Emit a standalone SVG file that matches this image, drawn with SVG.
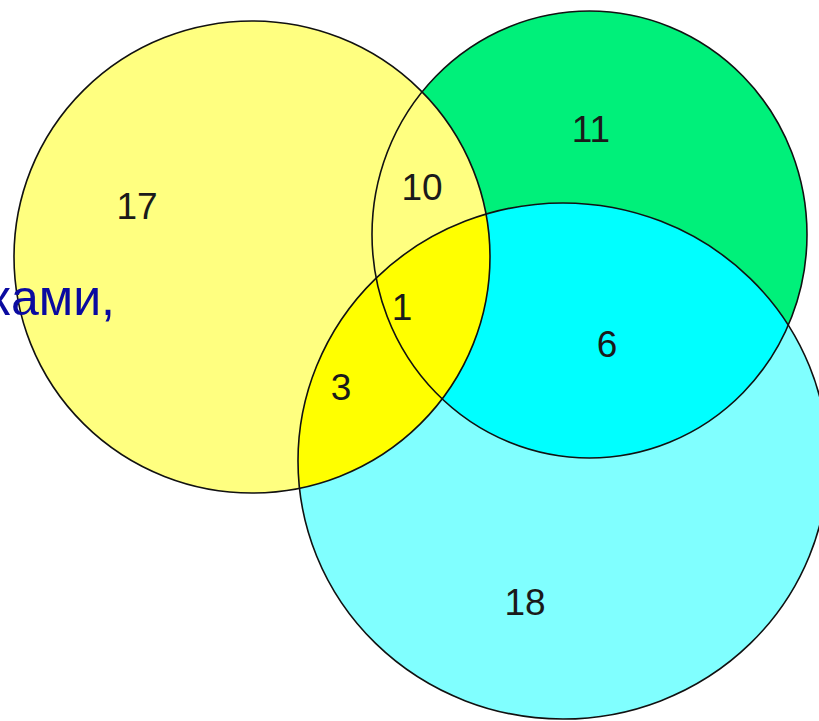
<svg xmlns="http://www.w3.org/2000/svg" width="819" height="721" viewBox="0 0 819 721">
<style>
.num{font-family:"Liberation Sans",Arial,sans-serif;font-size:37px;fill:#1a1a1a;text-anchor:middle}
.outline{fill:none;stroke:#111;stroke-width:1.6}
.lbl{font-family:"Liberation Sans",Arial,sans-serif;font-size:50px;fill:#0a0aa0;text-anchor:end}
</style>
<defs>
<clipPath id="clipG"><ellipse cx="589.5" cy="234.5" rx="217.5" ry="223.5"/></clipPath>
<clipPath id="clipY"><ellipse cx="252" cy="257" rx="238" ry="236"/></clipPath>
</defs>
<rect width="819" height="721" fill="#fff"/>
<g id="setB">
<ellipse cx="589.5" cy="234.5" rx="217.5" ry="223.5" fill="#00f07a"/>
</g>
<g id="setA">
<ellipse cx="252" cy="257" rx="238" ry="236" fill="#ffff80"/>
</g>
<g id="setC">
<ellipse cx="563" cy="461" rx="265" ry="258" fill="#80ffff"/>
<ellipse cx="563" cy="461" rx="265" ry="258" fill="#00ffff" clip-path="url(#clipG)"/>
<ellipse cx="563" cy="461" rx="265" ry="258" fill="#ffff00" clip-path="url(#clipY)"/>
</g>
<g id="outlines">
<ellipse class="outline" cx="252" cy="257" rx="238" ry="236"/>
<ellipse class="outline" cx="589.5" cy="234.5" rx="217.5" ry="223.5"/>
<ellipse class="outline" cx="563" cy="461" rx="265" ry="258"/>
</g>
<g id="labels">
<text class="num" x="137" y="219">17</text>
<text class="num" x="422" y="200">10</text>
<text class="num" x="591" y="142">11</text>
<text class="num" x="402" y="320">1</text>
<text class="num" x="341" y="400">3</text>
<text class="num" x="607" y="357">6</text>
<text class="num" x="525" y="615">18</text>
</g>
<text class="lbl" x="115" y="315">ками,</text>
</svg>
